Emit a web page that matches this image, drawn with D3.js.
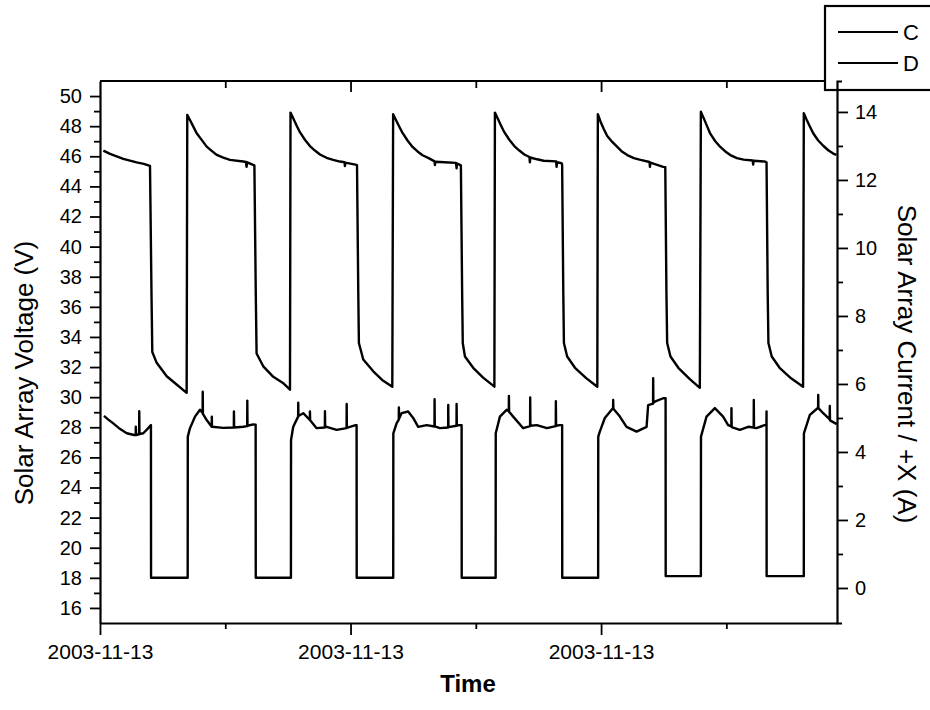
<!DOCTYPE html>
<html>
<head>
<meta charset="utf-8">
<script src="https://cdn.jsdelivr.net/npm/d3@7"></script>
<style>
  body { margin: 0; background: #fff; }
  svg text { font-family: "Liberation Sans", Arial, sans-serif; fill: #000; }
</style>
</head>
<body>
<svg id="chart" width="930" height="710"></svg>
<script>
// Solar array telemetry, 2003-11-13 (times in minutes after 00:00)
const startDate = new Date(2003, 10, 13, 0, 0);
const endMinute = 706;

// C: Solar Array Voltage (V), left axis
const voltageMinutes = [
  3.2, 9.6, 22.3, 35.1, 42.0, 47.9, 49.3, 50.1, 54.3, 63.9, 73.4, 83.0,
  83.6, 86.2, 89.4, 92.6, 97.4, 102.2, 107.0, 111.8, 118.1, 124.5, 137.2, 139.8, 140.4, 141.0, 146.8, 147.9, 149.2, 150.0, 156.4, 166.0, 176.0, 182.0,
  182.5, 185.1, 188.3, 191.5, 196.3, 201.1, 205.9, 210.7, 217.0, 223.4, 229.8, 234.3, 234.6, 235.0, 245.8, 246.2, 247.4, 248.0, 252.2, 262.0, 271.0, 280.0,
  280.8, 283.4, 286.6, 289.8, 294.6, 299.4, 304.2, 309.0, 315.3, 320.5, 320.8, 321.2, 330.0, 341.0, 341.6, 342.0, 344.8, 345.7, 346.9, 347.5, 349.6, 357.5, 367.0, 377.8,
  378.3, 380.9, 384.1, 387.3, 392.1, 396.9, 401.7, 406.5, 411.4, 411.8, 412.2, 418.7, 425.0, 437.0, 437.4, 437.8, 442.2, 442.7, 443.8, 444.4, 447.5, 455.0, 466.0, 476.4,
  476.9, 479.5, 482.7, 485.9, 490.7, 495.5, 500.3, 505.1, 511.4, 517.8, 526.4, 526.8, 527.2, 539.5, 541.5, 542.6, 543.3, 546.5, 554.0, 565.0, 574.6,
  575.6, 578.2, 581.4, 584.6, 589.4, 594.2, 599.0, 603.8, 610.1, 616.5, 625.3, 625.7, 626.1, 636.9, 638.5, 639.6, 640.3, 643.5, 651.0, 662.0, 673.5,
  674.2, 676.8, 680.0, 683.2, 688.0, 692.8, 697.6, 702.4, 705.5
];
const voltageValues = [
  46.38, 46.16, 45.83, 45.60, 45.50, 45.36, 37.0, 33.0, 32.28, 31.39, 30.84, 30.29,
  48.75, 48.41, 47.97, 47.53, 47.09, 46.64, 46.36, 46.09, 45.91, 45.76, 45.65, 45.62, 45.30, 45.60, 45.43, 45.40, 37.0, 32.90, 32.05, 31.35, 30.90, 30.50,
  48.90, 48.52, 48.05, 47.60, 47.10, 46.68, 46.38, 46.12, 45.90, 45.76, 45.65, 45.60, 45.35, 45.58, 45.43, 45.40, 37.0, 33.60, 32.50, 31.70, 31.10, 30.69,
  48.79, 48.42, 47.98, 47.55, 47.05, 46.62, 46.32, 46.07, 45.86, 45.66, 45.42, 45.64, 45.60, 45.56, 45.20, 45.52, 45.43, 45.40, 37.0, 33.60, 32.70, 31.95, 31.30, 30.70,
  48.90, 48.52, 48.05, 47.60, 47.10, 46.68, 46.38, 46.12, 45.95, 45.60, 45.92, 45.80, 45.70, 45.66, 45.30, 45.60, 45.54, 45.45, 37.0, 33.60, 32.70, 31.95, 31.25, 30.69,
  48.79, 48.30, 47.80, 47.35, 46.95, 46.62, 46.30, 46.08, 45.88, 45.76, 45.62, 45.30, 45.58, 45.30, 45.28, 37.0, 33.60, 32.70, 31.95, 31.20, 30.62,
  48.96, 48.55, 48.02, 47.50, 47.00, 46.62, 46.32, 46.08, 45.88, 45.78, 45.72, 45.45, 45.70, 45.65, 45.60, 37.0, 33.60, 32.70, 31.95, 31.25, 30.69,
  48.86, 48.45, 47.98, 47.53, 47.05, 46.70, 46.40, 46.18, 46.09
];

// D: Solar Array Current / +X (A), right axis
const currentMinutes = [
  3.8, 8.0, 12.7, 19.0, 25.6, 32.6, 34.2, 34.3, 34.5, 37.5, 37.6, 37.8, 41.5, 46.2, 48.8, 48.9, 84.0,
  84.1, 86.2, 91.0, 95.8, 98.3, 98.4, 98.6, 102.2, 107.0, 107.1, 107.3, 118.1, 128.2, 128.3, 128.5, 137.2, 141.0, 141.1, 141.3, 146.8, 149.1, 149.2, 182.9,
  183.0, 185.1, 189.8, 189.9, 190.1, 194.7, 201.0, 201.1, 201.3, 207.5, 215.4, 215.5, 215.7, 217.1, 226.7, 236.2, 236.3, 236.5, 239.4, 244.9, 245.8, 245.9, 280.9,
  281.0, 284.1, 286.2, 286.3, 286.5, 288.9, 295.2, 300.0, 304.8, 312.9, 320.4, 320.5, 320.7, 325.6, 333.5, 333.6, 333.8, 341.5, 341.6, 341.8, 344.8, 346.4, 346.5, 379.0,
  379.1, 383.1, 389.5, 391.6, 391.7, 391.9, 395.8, 405.4, 412.0, 412.1, 412.3, 418.5, 428.1, 436.6, 436.7, 436.9, 440.5, 442.7, 442.8, 477.2,
  477.3, 478.8, 483.6, 491.5, 491.6, 491.8, 498.0, 504.4, 514.0, 523.6, 525.1, 529.8, 529.9, 530.1, 531.5, 539.5, 541.8, 541.9, 575.6,
  575.7, 581.0, 589.0, 596.9, 601.7, 604.8, 604.9, 605.1, 612.9, 620.9, 626.2, 626.3, 626.5, 628.8, 636.7, 638.4, 638.5, 638.6, 674.2,
  674.3, 680.0, 687.9, 688.0, 688.2, 692.8, 699.0, 699.1, 699.3, 705.8
];
const currentValues = [
  5.06, 4.95, 4.84, 4.68, 4.55, 4.50, 4.50, 4.74, 4.50, 4.52, 5.20, 4.53, 4.55, 4.70, 4.79, 0.30, 0.30,
  4.45, 4.70, 5.04, 5.24, 5.15, 5.77, 5.12, 4.94, 4.74, 5.04, 4.74, 4.71, 4.72, 5.19, 4.72, 4.74, 4.76, 5.51, 4.77, 4.81, 4.80, 0.30, 0.30,
  4.35, 4.74, 5.04, 5.45, 5.06, 5.14, 4.94, 5.19, 4.93, 4.70, 4.72, 5.20, 4.73, 4.74, 4.65, 4.70, 5.41, 4.71, 4.74, 4.79, 4.79, 0.30, 0.30,
  4.55, 4.84, 4.95, 5.31, 4.98, 5.14, 5.19, 5.00, 4.74, 4.79, 4.75, 5.55, 4.75, 4.70, 4.72, 5.38, 4.73, 4.77, 5.41, 4.78, 4.79, 4.79, 0.30, 0.30,
  4.55, 5.04, 5.24, 5.20, 5.65, 5.18, 5.04, 4.70, 4.76, 5.60, 4.77, 4.79, 4.70, 4.76, 5.49, 4.77, 4.79, 4.79, 0.30, 0.30,
  4.45, 4.60, 5.00, 5.29, 5.53, 5.27, 5.04, 4.74, 4.60, 4.74, 5.38, 5.42, 6.17, 5.45, 5.48, 5.58, 5.58, 0.35, 0.35,
  4.45, 5.04, 5.29, 5.04, 4.79, 4.75, 5.29, 4.73, 4.65, 4.74, 4.72, 5.53, 4.71, 4.70, 4.79, 4.80, 5.19, 0.35, 0.35,
  4.55, 5.09, 5.30, 5.68, 5.29, 5.14, 4.96, 5.35, 4.93, 4.82
];

// Axis ticks and labels
const voltageMajorTicks = [16, 18, 20, 22, 24, 26, 28, 30, 32, 34, 36, 38, 40, 42, 44, 46, 48, 50];
const voltageMinorTicks = [17, 19, 21, 23, 25, 27, 29, 31, 33, 35, 37, 39, 41, 43, 45, 47, 49];
const currentMajorTicks = [0, 2, 4, 6, 8, 10, 12, 14];
const currentMinorTicks = [1, 3, 5, 7, 9, 11, 13];
const timeMajorHours = [0, 4, 8];
const timeMinorHours = [2, 6, 10];
const seriesNames = ["C", "D"];
const axisTitles = {
  left: "Solar Array Voltage (V)",
  right: "Solar Array Current / +X (A)",
  bottom: "Time"
};

const toDate = m => new Date(startDate.getTime() + m * 60000);
const atHour = h => toDate(h * 60);

const voltageSeries = voltageMinutes.map((m, i) => ({ t: toDate(m), v: voltageValues[i] }));
const currentSeries = currentMinutes.map((m, i) => ({ t: toDate(m), v: currentValues[i] }));

const plot = { left: 100, right: 837, top: 81, bottom: 623 };

const x = d3.scaleTime()
  .domain([toDate(0), toDate(endMinute)])
  .range([plot.left, plot.right]);
const yV = d3.scaleLinear().domain([15, 51]).range([plot.bottom, plot.top]);
const yI = d3.scaleLinear().domain([-1.03, 14.91]).range([plot.bottom, plot.top]);

const svg = d3.select("#chart");
const FONT = '"Liberation Sans", Arial, sans-serif';

// Top frame line (left, bottom and right come from the axes)
svg.append("line")
  .attr("x1", plot.left).attr("x2", plot.right)
  .attr("y1", plot.top).attr("y2", plot.top)
  .attr("stroke", "#000").attr("stroke-width", 2);

// Series lines
const lineV = d3.line().x(d => x(d.t)).y(d => yV(d.v));
const lineI = d3.line().x(d => x(d.t)).y(d => yI(d.v));

svg.append("path").datum(voltageSeries)
  .attr("d", lineV)
  .attr("fill", "none").attr("stroke", "#000")
  .attr("stroke-width", 2.4).attr("stroke-linejoin", "round");

svg.append("path").datum(currentSeries)
  .attr("d", lineI)
  .attr("fill", "none").attr("stroke", "#000")
  .attr("stroke-width", 2.4).attr("stroke-linejoin", "round");

function styleAxis(g, size) {
  g.attr("font-family", FONT).attr("font-size", size);
  g.selectAll("path.domain").attr("stroke-width", 2.2);
  g.selectAll(".tick line").attr("stroke-width", 1.8);
  g.selectAll(".tick text").attr("fill", "#000");
}

// Left axis (voltage)
svg.append("g")
  .attr("transform", `translate(${plot.left},0)`)
  .call(d3.axisLeft(yV).tickValues(voltageMinorTicks).tickSize(6).tickSizeOuter(0).tickFormat(""))
  .call(g => g.select(".domain").remove())
  .call(g => g.selectAll(".tick line").attr("stroke-width", 1.8));
svg.append("g")
  .attr("transform", `translate(${plot.left},0)`)
  .call(d3.axisLeft(yV).tickValues(voltageMajorTicks).tickSize(10).tickSizeOuter(0).tickPadding(8))
  .call(g => styleAxis(g, 20));

// Bottom axis (time)
svg.append("g")
  .attr("transform", `translate(0,${plot.bottom})`)
  .call(d3.axisBottom(x).tickValues(timeMinorHours.map(atHour)).tickSize(6).tickSizeOuter(0).tickFormat(""))
  .call(g => g.select(".domain").remove())
  .call(g => g.selectAll(".tick line").attr("stroke-width", 1.8));
svg.append("g")
  .attr("transform", `translate(0,${plot.bottom})`)
  .call(d3.axisBottom(x).tickValues(timeMajorHours.map(atHour)).tickSize(12).tickSizeOuter(0)
    .tickPadding(9).tickFormat(d3.timeFormat("%Y-%m-%d")))
  .call(g => styleAxis(g, 21));

// Top mirror ticks (inward)
svg.append("g")
  .attr("transform", `translate(0,${plot.top})`)
  .call(d3.axisBottom(x).tickValues(timeMinorHours.map(atHour)).tickSize(7).tickSizeOuter(0).tickFormat(""))
  .call(g => g.select(".domain").remove())
  .call(g => g.selectAll(".tick line").attr("stroke-width", 1.8));
svg.append("g")
  .attr("transform", `translate(0,${plot.top})`)
  .call(d3.axisBottom(x).tickValues(timeMajorHours.slice(1).map(atHour)).tickSize(11).tickSizeOuter(0).tickFormat(""))
  .call(g => g.select(".domain").remove())
  .call(g => g.selectAll(".tick line").attr("stroke-width", 1.8));

// Legend box (overlaps the top-right corner of the frame)
const legend = svg.append("g");
legend.append("rect")
  .attr("x", 825).attr("y", 6).attr("width", 130).attr("height", 84)
  .attr("fill", "#fff").attr("stroke", "#000").attr("stroke-width", 2.2);
seriesNames.forEach((name, i) => {
  const ly = 32 + i * 31;
  legend.append("line")
    .attr("x1", 838).attr("x2", 898).attr("y1", ly).attr("y2", ly)
    .attr("stroke", "#000").attr("stroke-width", 2.2);
  legend.append("text")
    .attr("x", 903).attr("y", ly + 8)
    .attr("font-size", 22)
    .text(name);
});

// Right axis (current), drawn over the legend box
svg.append("g")
  .attr("transform", `translate(${plot.right},0)`)
  .call(d3.axisRight(yI).tickValues(currentMinorTicks).tickSize(6).tickSizeOuter(0).tickFormat(""))
  .call(g => g.select(".domain").remove())
  .call(g => g.selectAll(".tick line").attr("stroke-width", 1.8));
svg.append("g")
  .attr("transform", `translate(${plot.right},0)`)
  .call(d3.axisRight(yI).tickValues(currentMajorTicks).tickSize(11).tickSizeOuter(5).tickPadding(7))
  .call(g => styleAxis(g, 20));

// Axis titles
svg.append("text")
  .attr("transform", "translate(33,373) rotate(-90)")
  .attr("text-anchor", "middle")
  .attr("font-size", 26)
  .text(axisTitles.left);

svg.append("text")
  .attr("transform", "translate(898,364) rotate(90)")
  .attr("text-anchor", "middle")
  .attr("font-size", 26)
  .text(axisTitles.right);

svg.append("text")
  .attr("x", 468).attr("y", 692)
  .attr("text-anchor", "middle")
  .attr("font-size", 24)
  .attr("font-weight", "bold")
  .text(axisTitles.bottom);
</script>
</body>
</html>
